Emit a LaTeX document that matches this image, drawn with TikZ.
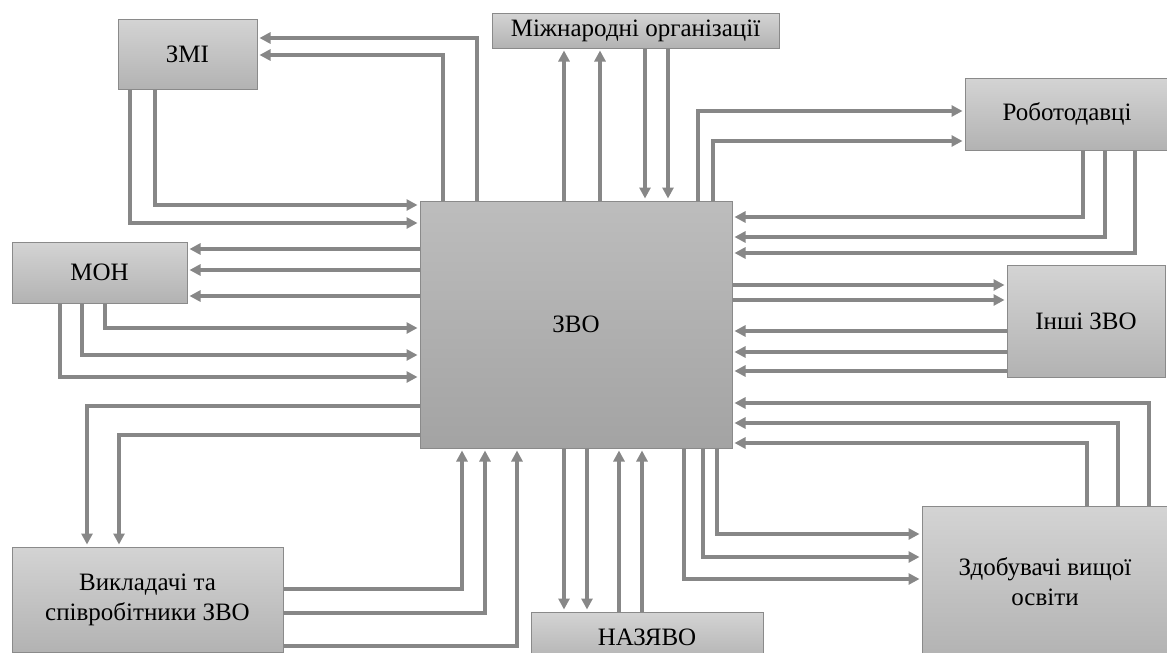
\documentclass[tikz,border=0pt]{standalone}
\usepackage{fontspec}
\setmainfont{Liberation Serif}
\usetikzlibrary{arrows.meta}
\definecolor{liniya}{RGB}{135,135,135}
\definecolor{ramka}{RGB}{138,138,138}
\tikzset{
  blok/.style={draw=ramka, line width=1pt, top color=black!17, bottom color=black!30,
    inner sep=0pt, align=center, font=\fontsize{25}{30}\selectfont},
  strilka/.style={draw=liniya, line width=3.5pt, -{Triangle[length=11pt,width=11pt]},
    shorten >=2pt},
}

\begin{document}
\begin{tikzpicture}[x=1pt, y=-1pt]
  \useasboundingbox[fill=white] (0,0) rectangle (1167,653);
  % blocks
  \node[blok, minimum width=312pt, minimum height=247pt, top color=black!26, bottom color=black!36] (zvo) at (576,324.5) {ЗВО};
  \node[blok, minimum width=139pt, minimum height=70pt] (zmi) at (187.5,54) {ЗМІ};
  \node[blok, minimum width=287pt, minimum height=35pt] (mizh) at (635.5,30.5) {Міжнародні організації};
  \node[blok, minimum width=204pt, minimum height=72pt] (robot) at (1067,114) {Роботодавці};
  \node[blok, minimum width=175pt, minimum height=61pt] (mon) at (99.5,272.5) {МОН};
  \node[blok, minimum width=158pt, minimum height=112pt] (inshi) at (1086,321) {Інші ЗВО};
  \node[blok, minimum width=271pt, minimum height=105pt] (vykl) at (147.5,599.5) {Викладачі та\\співробітники ЗВО};
  \node[blok, minimum width=232pt, minimum height=50pt] (nazvo) at (647,637) {НАЗЯВО};
  \node[blok, minimum width=246pt, minimum height=152pt] (zdob) at (1045,582) {Здобувачі вищої\\освіти};

  % ЗМІ
  \foreach \x/\y in {477/38, 443/55}
    \draw[strilka] (zvo.north -| \x,0) |- (zmi.east |- 0,\y);
  \foreach \x/\y in {155/205, 130/223}
    \draw[strilka] (zmi.south -| \x,0) |- (zvo.west |- 0,\y);

  % Міжнародні організації
  \foreach \x in {564,600}
    \draw[strilka] (zvo.north -| \x,0) -- (mizh.south -| \x,0);
  \foreach \x in {645,668}
    \draw[strilka] (mizh.south -| \x,0) -- (zvo.north -| \x,0);

  % Роботодавці
  \foreach \x/\y in {698/111, 713/141}
    \draw[strilka] (zvo.north -| \x,0) |- (robot.west |- 0,\y);
  \foreach \x/\y in {1083/217, 1105/237, 1135/253}
    \draw[strilka] (robot.south -| \x,0) |- (zvo.east |- 0,\y);

  % Інші ЗВО
  \foreach \y in {285,300}
    \draw[strilka] (zvo.east |- 0,\y) -- (inshi.west |- 0,\y);
  \foreach \y in {331,352,371}
    \draw[strilka] (inshi.west |- 0,\y) -- (zvo.east |- 0,\y);

  % Здобувачі
  \foreach \x/\y in {1149/403, 1118/423, 1087/443}
    \draw[strilka] (zdob.north -| \x,0) |- (zvo.east |- 0,\y);
  \foreach \x/\y in {717/534, 703/557, 684/579}
    \draw[strilka] (zvo.south -| \x,0) |- (zdob.west |- 0,\y);

  % НАЗЯВО
  \foreach \x in {564,587}
    \draw[strilka] (zvo.south -| \x,0) -- (nazvo.north -| \x,0);
  \foreach \x in {619,642}
    \draw[strilka] (nazvo.north -| \x,0) -- (zvo.south -| \x,0);

  % Викладачі
  \foreach \x/\y in {462/589, 485/613, 517/646}
    \draw[strilka] (vykl.east |- 0,\y) -| (zvo.south -| \x,0);
  \foreach \x/\y in {87/406, 119/435}
    \draw[strilka] (zvo.west |- 0,\y) -| (vykl.north -| \x,0);

  % МОН
  \foreach \y in {249,270,296}
    \draw[strilka] (zvo.west |- 0,\y) -- (mon.east |- 0,\y);
  \foreach \x/\y in {105/328, 82/355, 60/377}
    \draw[strilka] (mon.south -| \x,0) |- (zvo.west |- 0,\y);
\end{tikzpicture}
\end{document}
